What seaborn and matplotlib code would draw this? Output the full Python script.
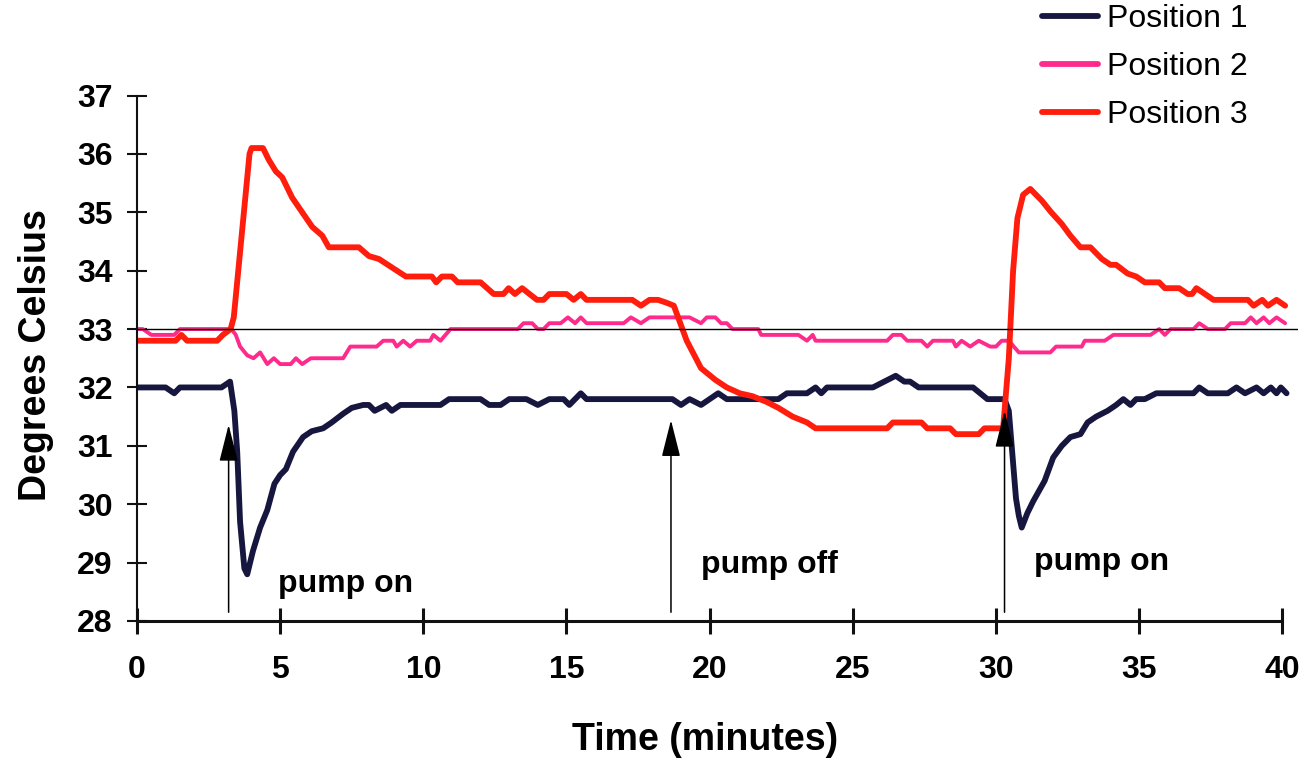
import matplotlib
matplotlib.use("Agg")
import matplotlib.pyplot as plt
import seaborn as sns
import pandas as pd
from matplotlib.lines import Line2D

# Temperature readings (degrees Celsius) at three probe positions over time (minutes)
time_pos1 = [0.0, 1.0, 1.3, 1.5, 2.95, 3.25, 3.4, 3.5, 3.6, 3.75, 3.85, 4.05, 4.3, 4.55, 4.8,
             5.0, 5.2, 5.45, 5.8, 6.1, 6.5, 6.8, 7.2, 7.5, 7.9, 8.1, 8.3, 8.7, 8.9, 9.2, 10.4,
             10.6, 10.9, 12.0, 12.3, 12.7, 13.0, 13.6, 14.0, 14.4, 14.9, 15.1, 15.5, 15.7, 18.7,
             19.0, 19.3, 19.7, 20.0, 20.3, 20.6, 22.4, 22.7, 23.4, 23.7, 23.9, 24.1, 25.7, 26.1,
             26.5, 26.8, 27.0, 27.3, 29.2, 29.7, 30.3, 30.45, 30.55, 30.7, 30.8, 30.9, 31.1, 31.3,
             31.7, 32.0, 32.3, 32.6, 32.95, 33.2, 33.5, 33.9, 34.2, 34.45, 34.7, 34.9, 35.2, 35.6,
             36.9, 37.1, 37.4, 38.1, 38.4, 38.7, 39.1, 39.35, 39.6, 39.8, 39.95, 40.15]
temp_pos1 = [32.0, 32.0, 31.9, 32.0, 32.0, 32.1, 31.6, 30.9, 29.7, 28.9, 28.8, 29.2, 29.6, 29.9, 30.35,
             30.5, 30.6, 30.9, 31.15, 31.25, 31.3, 31.4, 31.55, 31.65, 31.7, 31.7, 31.6, 31.7, 31.6, 31.7, 31.7,
             31.7, 31.8, 31.8, 31.7, 31.7, 31.8, 31.8, 31.7, 31.8, 31.8, 31.7, 31.9, 31.8, 31.8,
             31.7, 31.8, 31.7, 31.8, 31.9, 31.8, 31.8, 31.9, 31.9, 32.0, 31.9, 32.0, 32.0, 32.1,
             32.2, 32.1, 32.1, 32.0, 32.0, 31.8, 31.8, 31.6, 31.0, 30.1, 29.8, 29.6, 29.85, 30.05,
             30.4, 30.8, 31.0, 31.15, 31.2, 31.4, 31.5, 31.6, 31.7, 31.8, 31.7, 31.8, 31.8, 31.9,
             31.9, 32.0, 31.9, 31.9, 32.0, 31.9, 32.0, 31.9, 32.0, 31.9, 32.0, 31.9]

time_pos2 = [0.0, 0.2, 0.5, 1.3, 1.5, 3.3, 3.45, 3.6, 3.85, 4.07, 4.3, 4.55, 4.78, 5.0, 5.37,
             5.55, 5.77, 6.07, 7.2, 7.45, 8.37, 8.6, 8.95, 9.07, 9.3, 9.54, 9.77, 10.24, 10.35,
             10.6, 10.95, 13.3, 13.5, 13.8, 14.0, 14.2, 14.4, 14.8, 15.05, 15.3, 15.5, 15.7, 17.0,
             17.25, 17.6, 17.9, 19.3, 19.7, 19.9, 20.2, 20.4, 20.6, 20.8, 21.7, 21.8, 23.1, 23.4,
             23.6, 23.7, 26.2, 26.4, 26.7, 26.9, 27.4, 27.6, 27.8, 28.5, 28.6, 28.8, 29.1, 29.4,
             29.8, 30.0, 30.2, 30.45, 30.8, 31.9, 32.1, 33.0, 33.1, 33.8, 34.1, 35.4, 35.7, 35.9,
             36.1, 36.9, 37.1, 37.4, 38.0, 38.2, 38.7, 38.9, 39.1, 39.35, 39.55, 39.8, 40.1]
temp_pos2 = [33.0, 33.0, 32.9, 32.9, 33.0, 33.0, 32.9, 32.7, 32.55, 32.5, 32.6, 32.4, 32.5, 32.4, 32.4,
             32.5, 32.4, 32.5, 32.5, 32.7, 32.7, 32.8, 32.8, 32.7, 32.8, 32.7, 32.8, 32.8, 32.9,
             32.8, 33.0, 33.0, 33.1, 33.1, 33.0, 33.0, 33.1, 33.1, 33.2, 33.1, 33.2, 33.1, 33.1,
             33.2, 33.1, 33.2, 33.2, 33.1, 33.2, 33.2, 33.1, 33.1, 33.0, 33.0, 32.9, 32.9, 32.8,
             32.9, 32.8, 32.8, 32.9, 32.9, 32.8, 32.8, 32.7, 32.8, 32.8, 32.7, 32.8, 32.7, 32.8,
             32.7, 32.7, 32.8, 32.8, 32.6, 32.6, 32.7, 32.7, 32.8, 32.8, 32.9, 32.9, 33.0, 32.9,
             33.0, 33.0, 33.1, 33.0, 33.0, 33.1, 33.1, 33.2, 33.1, 33.2, 33.1, 33.2, 33.1]

time_pos3 = [0.0, 1.35, 1.55, 1.75, 2.8, 3.0, 3.27, 3.38, 3.93, 4.0, 4.4, 4.6, 4.85, 5.07, 5.42,
             5.77, 6.12, 6.47, 6.7, 7.75, 8.1, 8.45, 8.92, 9.39, 10.3, 10.45, 10.65, 11.0, 11.2,
             12.0, 12.46, 12.8, 12.98, 13.2, 13.45, 13.97, 14.2, 14.4, 15.0, 15.25, 15.5, 15.7, 17.3,
             17.6, 17.9, 18.2, 18.5, 18.75, 19.2, 19.7, 20.2, 20.6, 21.05, 21.5, 22.0, 22.4, 22.9,
             23.4, 23.7, 26.2, 26.4, 27.4, 27.6, 28.4, 28.6, 29.4, 29.6, 30.25, 30.45, 30.6, 30.75,
             30.95, 31.2, 31.6, 31.93, 32.3, 32.6, 32.95, 33.3, 33.7, 34.0, 34.2, 34.6, 34.9, 35.2,
             35.7, 35.9, 36.4, 36.7, 36.85, 37.0, 37.6, 38.8, 39.0, 39.3, 39.5, 39.8, 40.1]
temp_pos3 = [32.8, 32.8, 32.9, 32.8, 32.8, 32.9, 33.0, 33.2, 36.0, 36.1, 36.1, 35.9, 35.7, 35.6, 35.25,
             35.0, 34.75, 34.6, 34.4, 34.4, 34.25, 34.2, 34.05, 33.9, 33.9, 33.8, 33.9, 33.9, 33.8,
             33.8, 33.6, 33.6, 33.7, 33.6, 33.7, 33.5, 33.5, 33.6, 33.6, 33.5, 33.6, 33.5, 33.5,
             33.4, 33.5, 33.5, 33.45, 33.4, 32.8, 32.33, 32.13, 32.0, 31.9, 31.85, 31.75, 31.65, 31.5,
             31.4, 31.3, 31.3, 31.4, 31.4, 31.3, 31.3, 31.2, 31.2, 31.3, 31.3, 32.5, 34.0, 34.9,
             35.3, 35.4, 35.2, 35.0, 34.8, 34.6, 34.4, 34.4, 34.2, 34.1, 34.1, 33.95, 33.9, 33.8,
             33.8, 33.7, 33.7, 33.6, 33.6, 33.7, 33.5, 33.5, 33.4, 33.5, 33.4, 33.5, 33.4]

series_names = ["Position 1", "Position 2", "Position 3"]
series_colors = ["#16163e", "#ff2b8c", "#ff1d0d"]
series_widths = [4.2, 2.8, 4.2]

# pump events: (time, arrow tip temperature, label, label x, label baseline y)
pump_times = [3.2, 18.65, 30.3]
pump_tips = [31.36, 31.44, 31.6]
pump_labels = ["pump on", "pump off", "pump on"]
pump_label_x = [4.93, 19.69, 31.33]
pump_label_y = [28.5, 28.82, 28.87]

reference_temp = 33.0

frames = []
for name, t, v in zip(series_names, [time_pos1, time_pos2, time_pos3],
                      [temp_pos1, temp_pos2, temp_pos3]):
    frames.append(pd.DataFrame({"Time": t, "Temp": v, "Position": name}))
df = pd.concat(frames, ignore_index=True)

sns.set_theme(style="white")
plt.rcParams["font.family"] = ["Liberation Sans", "DejaVu Sans"]
plt.rcParams["text.color"] = "black"

fig = plt.figure(figsize=(13.01, 7.58), dpi=100)
ax = fig.add_axes([137 / 1301, 137 / 758, 1161 / 1301, 525.5 / 758])

sns.lineplot(data=df, x="Time", y="Temp", hue="Position", hue_order=series_names,
             palette=dict(zip(series_names, series_colors)), estimator=None, sort=False,
             legend=False, ax=ax, solid_capstyle="round", solid_joinstyle="round")
for line, lw in zip(ax.get_lines(), series_widths):
    line.set_linewidth(lw)

ax.axhline(reference_temp, color="black", lw=1.0, zorder=5)

ax.set_xlim(0, 40.55)
ax.set_ylim(28, 37)
ax.set_xticks(range(0, 41, 5))
ax.set_yticks(range(28, 38))

for side in ["top", "right"]:
    ax.spines[side].set_visible(False)
ax.spines["bottom"].set_bounds(0, 40)
ax.spines["bottom"].set_linewidth(2.2)
ax.spines["left"].set_linewidth(1.5)
ax.spines["bottom"].set_color("#111111")
ax.spines["left"].set_color("#111111")

ax.tick_params(axis="x", direction="inout", length=19, width=2.2, pad=15, colors="#111111",
               labelsize=23, bottom=True)
ax.tick_params(axis="y", direction="inout", length=15, width=1.5, pad=10, colors="#111111",
               labelsize=23, left=True)
for lab in ax.get_xticklabels() + ax.get_yticklabels():
    lab.set_fontweight("bold")
    lab.set_color("black")

ax.set_xlabel("Time (minutes)", fontsize=27, fontweight="bold", color="black")
ax.set_ylabel("Degrees Celsius", fontsize=27, fontweight="bold", color="black")
ax.xaxis.set_label_coords(0.489, -0.192)
ax.yaxis.set_label_coords(-0.0715, 0.506)

for t, tip, lab, lx, ly in zip(pump_times, pump_tips, pump_labels, pump_label_x, pump_label_y):
    ax.annotate("", xy=(t, tip), xytext=(t, 28.15),
                arrowprops=dict(arrowstyle="-|>,head_length=1.15,head_width=0.29",
                                mutation_scale=20, lw=1.1, color="black",
                                shrinkA=0, shrinkB=0), zorder=6)
    ax.text(lx, ly, lab, fontsize=23, fontweight="bold", ha="left", va="baseline",
            color="black")

handles = [Line2D([0], [0], color=c, lw=4.2, solid_capstyle="round") for c in series_colors]
fig.legend(handles, series_names, loc="upper left", bbox_to_anchor=(1042 / 1301, 1 - 4 / 758),
           frameon=False, fontsize=23, handlelength=1.75, handletextpad=0.3,
           labelspacing=0.57, borderpad=0, borderaxespad=0, labelcolor="black")

fig.savefig("out.png", dpi=100)
